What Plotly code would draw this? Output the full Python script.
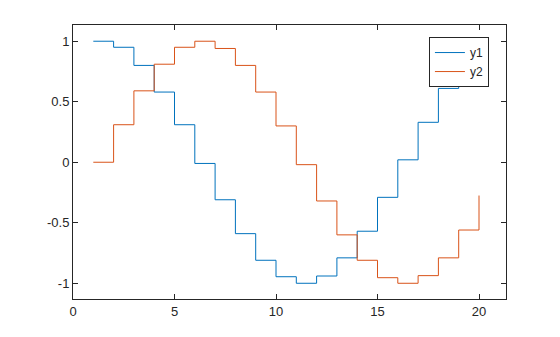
import plotly.graph_objects as go

x = list(range(1, 21))
y1 = [1.0, 0.95, 0.80, 0.58, 0.31, -0.01, -0.31, -0.59, -0.81, -0.946,
      -1.0, -0.94, -0.79, -0.57, -0.29, 0.02, 0.33, 0.61, 0.81, 0.95]
y2 = [0.0, 0.31, 0.59, 0.81, 0.95, 1.0, 0.94, 0.80, 0.58, 0.30,
      -0.02, -0.32, -0.60, -0.81, -0.954, -1.0, -0.937, -0.79, -0.56, -0.275]

xticks = [0, 5, 10, 15, 20]
yticks = [-1, -0.5, 0, 0.5, 1]
yticklabels = ["-1", "-0.5", "0", "0.5", "1"]

fig = go.Figure()
fig.add_trace(go.Scatter(x=x, y=y1, mode="lines", name="y1",
                         line=dict(color="#0072BD", width=1, shape="hv")))
fig.add_trace(go.Scatter(x=x, y=y2, mode="lines", name="y2",
                         line=dict(color="#D95319", width=1, shape="hv")))

axis_common = dict(showgrid=False, zeroline=False, showline=True, linecolor="#262626",
                   linewidth=1, mirror="ticks", ticks="inside", ticklen=5,
                   tickcolor="#262626", tickfont=dict(family="Liberation Sans, Arial", size=13, color="#262626"))
fig.update_xaxes(range=[0, 21.33], tickvals=xticks, **axis_common)
fig.update_yaxes(range=[-1.13, 1.134], tickvals=yticks, ticktext=yticklabels, **axis_common)

fig.update_layout(
    width=560, height=337,
    margin=dict(l=73, r=54, t=25, b=38),
    plot_bgcolor="white", paper_bgcolor="white",
    font=dict(family="Liberation Sans, Arial", size=13, color="#262626"),
    legend=dict(x=0.822, y=0.956, xanchor="left", yanchor="top",
                bordercolor="#262626", borderwidth=1, bgcolor="white",
                font=dict(size=12), tracegroupgap=0, itemwidth=30),
)
fig.write_html("out.html")
